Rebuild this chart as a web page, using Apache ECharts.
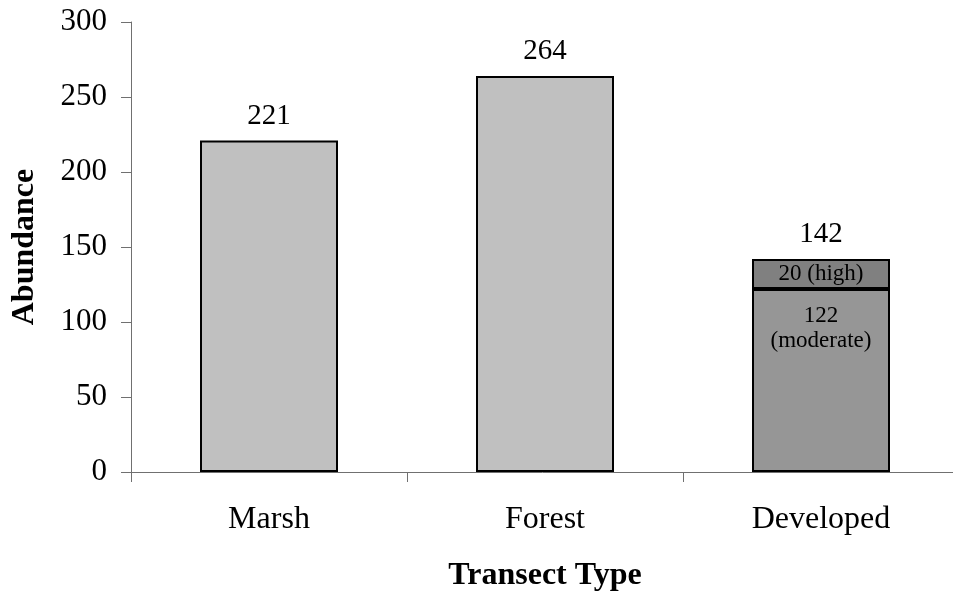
<!DOCTYPE html>
<html>
<head>
<meta charset="utf-8">
<script src="https://cdn.jsdelivr.net/npm/echarts@6/dist/echarts.min.js"></script>
<style>html,body{margin:0;padding:0;background:#fff}#c{width:953px;height:597px}</style>
</head>
<body>
<div id="c"></div>
<script>
const categories = ['Marsh', 'Forest', 'Developed'];
const totalValues = [221, 264, null];
const moderateValues = [null, null, 122];
const highValues = [null, null, 20];
const yTicks = [0, 50, 100, 150, 200, 250, 300];

const FONT = 'Liberation Serif';
const chart = echarts.init(document.getElementById('c'), null, {renderer: 'canvas'});
const devTotal = categories.map((c, i) => (moderateValues[i] || 0) + (highValues[i] || 0));
const border = {borderColor: '#000', borderWidth: 2};
chart.setOption({
  animation: false,
  backgroundColor: '#fff',
  grid: {left: 131, right: -6, top: 22, bottom: 125, outerBoundsMode: 'none', containLabel: false},
  xAxis: {
    type: 'category',
    data: categories,
    name: 'Transect Type',
    nameLocation: 'middle',
    nameGap: 88,
    nameTextStyle: {fontFamily: FONT, fontSize: 32, fontWeight: 'bold', color: '#000'},
    axisLine: {lineStyle: {color: '#707070', width: 1}},
    axisTick: {show: true, length: 10, lineStyle: {color: '#707070'}},
    axisLabel: {fontFamily: FONT, fontSize: 32, color: '#000', margin: 32}
  },
  yAxis: {
    type: 'value',
    min: yTicks[0],
    max: yTicks[yTicks.length - 1],
    interval: yTicks[1] - yTicks[0],
    name: 'Abundance',
    nameLocation: 'middle',
    nameGap: 90,
    nameTextStyle: {fontFamily: FONT, fontSize: 32, fontWeight: 'bold', color: '#000'},
    splitLine: {show: false},
    axisLine: {show: true, lineStyle: {color: '#707070', width: 1}},
    axisTick: {show: true, length: 10, lineStyle: {color: '#707070'}},
    axisLabel: {fontFamily: FONT, fontSize: 31, color: '#000', margin: 24}
  },
  series: [
    {
      type: 'bar', stack: 'a', barWidth: '50%',
      data: totalValues.map(v => v == null ? '-' : v),
      itemStyle: Object.assign({color: '#C0C0C0'}, border),
      label: {show: true, position: 'top', distance: 10, fontFamily: FONT, fontSize: 29, color: '#000'}
    },
    {
      type: 'bar', stack: 'a', barWidth: '50%',
      data: moderateValues.map(v => v == null ? '-' : v),
      itemStyle: Object.assign({color: '#969696'}, border),
      label: {show: true, position: 'insideTop', distance: 14, fontFamily: FONT, fontSize: 23, lineHeight: 25, color: '#000',
        formatter: p => p.value + '\n(moderate)'}
    },
    {
      type: 'bar', stack: 'a', barWidth: '50%',
      data: highValues.map(v => v == null ? '-' : v),
      itemStyle: Object.assign({color: '#808080'}, border),
      label: {show: true, position: 'inside', fontFamily: FONT, fontSize: 23, color: '#000',
        formatter: p => p.value + ' (high)'}
    },
    {
      type: 'bar', stack: 'a', barWidth: '50%',
      data: highValues.map(v => v == null ? '-' : 0),
      itemStyle: {color: 'rgba(0,0,0,0)', borderWidth: 0},
      label: {show: true, position: 'top', distance: 10, fontFamily: FONT, fontSize: 29, color: '#000',
        formatter: p => String(devTotal[p.dataIndex])}
    }
  ]
});
</script>
</body>
</html>
